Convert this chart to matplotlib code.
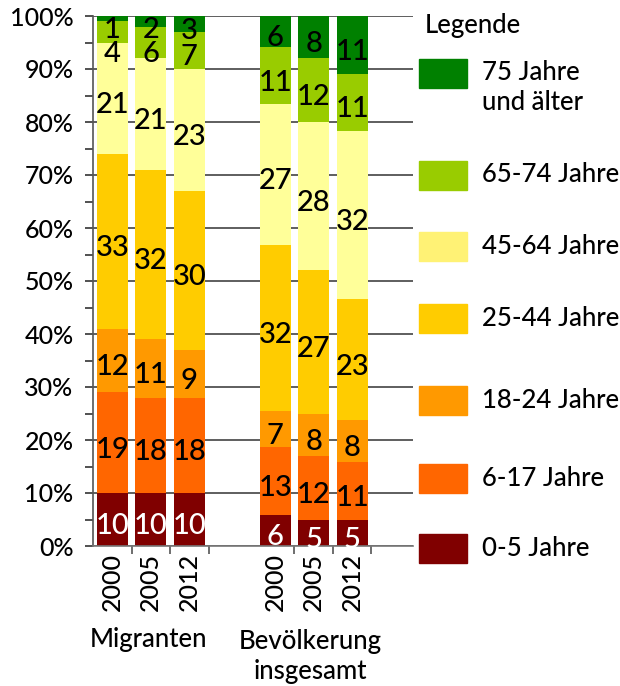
import numpy as np
import matplotlib
matplotlib.use("Agg")
from matplotlib import pyplot as plt
from matplotlib.patches import Rectangle

plt.rcParams['font.family'] = ['Lato', 'DejaVu Sans']
plt.rcParams['font.weight'] = 'medium'

# age groups, bottom to top
groups = ["0-5 Jahre", "6-17 Jahre", "18-24 Jahre", "25-44 Jahre",
          "45-64 Jahre", "65-74 Jahre", "75 Jahre\nund älter"]
bar_colors = ["#800000", "#FF6600", "#FF9900", "#FFCC00", "#FFFF99", "#99CC00", "#008000"]
legend_colors = ["#800000", "#FF6600", "#FF9900", "#FFCC00", "#FFF275", "#99CC00", "#008000"]
text_colors = ["white", "black", "black", "black", "black", "black", "black"]

years = ["2000", "2005", "2012", "2000", "2005", "2012"]
# shares in percent, one list per bar, bottom to top
mig_2000 = [10, 19, 12, 33, 21, 4, 1]
mig_2005 = [10, 18, 11, 32, 21, 6, 2]
mig_2012 = [10, 18, 9, 30, 23, 7, 3]
bev_2000 = [6, 13, 7, 32, 27, 11, 6]
bev_2005 = [5, 12, 8, 27, 28, 12, 8]
bev_2012 = [5, 11, 8, 23, 32, 11, 11]
bars = [mig_2000, mig_2005, mig_2012, bev_2000, bev_2005, bev_2012]

W, H = 620, 686
fig = plt.figure(figsize=(W / 100, H / 100), dpi=100)
ax = fig.add_axes([93 / W, 1 - 546 / H, (413 - 93) / W, (546 - 16) / H])

xpos = np.array([0.5, 1.5, 2.5, 4.73, 5.73, 6.73])
for i, vals in enumerate(bars):
    vals = np.array(vals, dtype=float)
    h = vals / vals.sum() * 100
    bottoms = np.concatenate([[0], np.cumsum(h)[:-1]])
    ax.bar(np.full(len(h), xpos[i]), h, bottom=bottoms, width=0.8,
           color=bar_colors, linewidth=0, zorder=2)
    # labels from the top down, keep small ones apart
    prev = 102.0
    for k in range(len(h) - 1, -1, -1):
        y = min(bottoms[k] + h[k] / 2 - 1.3, prev - 4.6)
        ax.text(xpos[i], y, str(bars[i][k]), ha="center", va="center",
                fontsize=21, color=text_colors[k], zorder=3)
        prev = y

ax.set_xlim(0, 8.31)
ax.set_ylim(0, 100)
ax.set_yticks(np.arange(0, 101, 10))
ax.set_yticklabels([f"{v}%" for v in range(0, 101, 10)], fontsize=18)
ax.set_yticks(np.arange(5, 100, 10), minor=True)
ax.tick_params(axis="y", which="both", length=6, width=1.2, color="#333333", pad=8)
ax.yaxis.grid(True, which="major", color="#333333", linewidth=1.1, zorder=0)
ax.set_axisbelow(True)

ax.set_xticks(xpos)
ax.set_xticklabels(years, rotation=90, fontsize=18)
ax.set_xticks([1, 2, 3, 5.23, 6.23, 7.23], minor=True)
ax.tick_params(axis="x", which="major", length=0, pad=5)
ax.tick_params(axis="x", which="minor", length=6, width=1.2, color="#555555")

for s in ["top", "right"]:
    ax.spines[s].set_visible(False)
ax.spines["left"].set_color("#555555")
ax.spines["bottom"].set_color("#777777")
ax.spines["left"].set_linewidth(1.2)
ax.spines["bottom"].set_linewidth(1.2)

# overlay axes in pixel coordinates for legend and group labels
ov = fig.add_axes([0, 0, 1, 1], facecolor="none")
ov.set_xlim(0, W)
ov.set_ylim(H, 0)
ov.axis("off")

ov.text(148, 640, "Migranten", ha="center", va="center", fontsize=18.5)
ov.text(310, 642, "Bevölkerung", ha="center", va="center", fontsize=18.5)
ov.text(310, 672, "insgesamt", ha="center", va="center", fontsize=18.5)

ov.text(425, 25, "Legende", ha="left", va="center", fontsize=18.5)
legend_y = [548, 478, 400, 318, 246, 175, 73]
for k in range(len(groups)):
    y = legend_y[k]
    ov.add_patch(Rectangle((419, y - 14.5), 48, 29, color=legend_colors[k]))
    if "\n" in groups[k]:
        first, second = groups[k].split("\n")
        ov.text(482, y, first, ha="left", va="center", fontsize=18.5)
        ov.text(482, y + 30, second, ha="left", va="center", fontsize=18.5)
    else:
        ov.text(482, y, groups[k], ha="left", va="center", fontsize=18.5)

fig.savefig("out.png", dpi=100)
